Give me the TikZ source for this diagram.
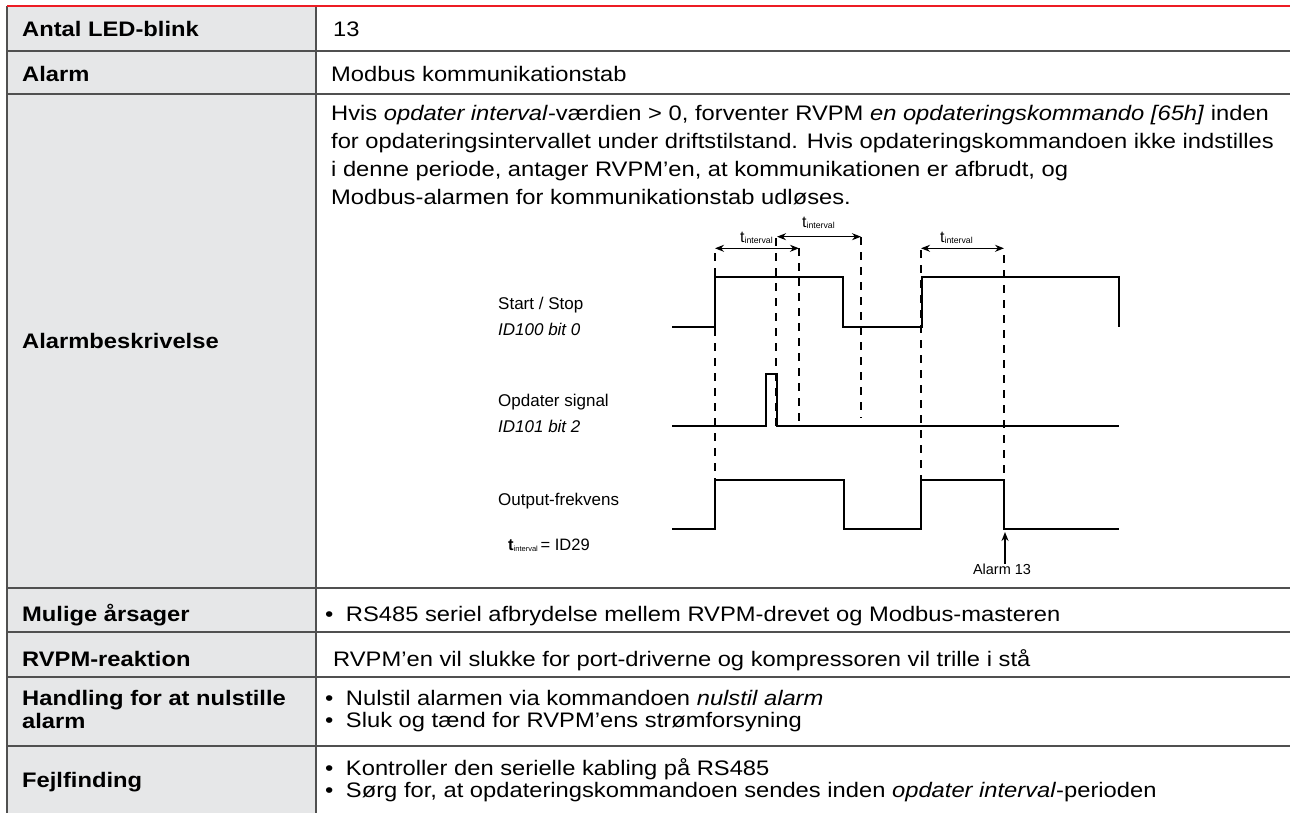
\documentclass[tikz,border=0pt]{standalone}
\usepackage{fontspec}
\setmainfont{Liberation Sans}
\newfontfamily\cellfont{Liberation Sans}[FakeStretch=1.13]
\usetikzlibrary{arrows.meta}
\definecolor{cellgray}{RGB}{230,231,232}
\definecolor{rulegray}{RGB}{80,80,80}
\definecolor{topred}{RGB}{237,28,36}
\newcommand{\tsub}[1]{t\raisebox{-1.5pt}{\fontsize{#1}{#1}\selectfont interval}}

\begin{document}
\begin{tikzpicture}[x=1pt,y=-1pt,
  txt/.style={anchor=base west,inner sep=0pt,font=\cellfont\fontsize{21}{24}\selectfont},
  hd/.style={txt,font=\cellfont\fontsize{21}{24}\selectfont\bfseries},
  lbl/.style={anchor=base west,inner sep=0pt,font=\fontsize{17}{20}\selectfont},
  wave/.style={black,line width=1.6pt},
  guide/.style={black,line width=1.4pt,dash pattern=on 8pt off 7pt},
  span/.style={black,line width=1.4pt,{Stealth[length=9pt,width=7pt]}-{Stealth[length=9pt,width=7pt]}}]
\useasboundingbox (0,0) rectangle (1290,813);

% table
\fill[cellgray] (7,6) rectangle (316,813);
\foreach \y in {51,94,588,632,677,746}
  \draw[rulegray,line width=1.5pt] (7,\y) -- (1290,\y);
\draw[rulegray,line width=1.5pt] (7,6) -- (7,813) (316,6) -- (316,813);
\draw[topred,line width=1.2pt] (7,6) -- (1290,6);

\node[hd] (blinkhd) at (22,36.7) {Antal LED-blink};
\node[txt] (blinkval) at (333,36.7) {13};
\node[hd] (alarmhd) at (22,81.7) {Alarm};
\node[txt] (alarmval) at (331,81.7) {Modbus kommunikationstab};
\node[hd] (deschd) at (22,348) {Alarmbeskrivelse};
\node[txt] (desc1) at (331,121) {Hvis \textit{opdater interval}-værdien > 0, forventer RVPM \textit{en opdateringskommando [65h]} inden};
\node[txt] (desc2) at (331,149) {for opdateringsintervallet under driftstilstand. Hvis opdateringskommandoen ikke indstilles};
\node[txt] (desc3) at (331,177) {i denne periode, antager RVPM’en, at kommunikationen er afbrudt, og};
\node[txt] (desc4) at (331,205) {Modbus-alarmen for kommunikationstab udløses.};

\node[hd] (causehd) at (22,621) {Mulige årsager};
\node[txt] (cause1) at (325,621) {•\hspace{12.5pt}RS485 seriel afbrydelse mellem RVPM-drevet og Modbus-masteren};
\node[hd] (reacthd) at (22,666) {RVPM-reaktion};
\node[txt] (react1) at (333,666) {RVPM’en vil slukke for port-driverne og kompressoren vil trille i stå};
\node[hd] (resethd) at (22,705) {Handling for at nulstille};
\node[hd] (resethd2) at (22,728) {alarm};
\node[txt] (reset1) at (325,705) {•\hspace{12.5pt}Nulstil alarmen via kommandoen \textit{nulstil alarm}};
\node[txt] (reset2) at (325,727.5) {•\hspace{12.5pt}Sluk og tænd for RVPM’ens strømforsyning};
\node[hd] (findhd) at (22,787) {Fejlfinding};
\node[txt] (find1) at (325,775) {•\hspace{12.5pt}Kontroller den serielle kabling på RS485};
\node[txt] (find2) at (325,797.5) {•\hspace{12.5pt}Sørg for, at opdateringskommandoen sendes inden \textit{opdater interval}-perioden};

% timing diagram
\node[lbl] (runlbl) at (498,309) {Start / Stop};
\node[lbl] (runid) at (498,335) {\textit{ID100 bit 0}};
\node[lbl] (updlbl) at (498,406) {Opdater signal};
\node[lbl] (updid) at (498,432) {\textit{ID101 bit 2}};
\node[lbl] (outlbl) at (498,505) {Output-frekvens};
\node[lbl,font=\fontsize{16.5}{20}\selectfont] (tnote) at (508,550) {\textbf{t}\raisebox{-1.5pt}{\fontsize{7.5}{8}\selectfont interval}\,= ID29};

\draw[wave] (672,327) -- (715,327) -- (715,277) -- (843,277) -- (843,327) -- (922,327) -- (922,277) -- (1119,277) -- (1119,327);
\draw[wave] (672,426) -- (766,426) -- (766,374) -- (777,374) -- (777,426) -- (1119,426);
\draw[wave] (672,529) -- (715,529) -- (715,480) -- (844,480) -- (844,529) -- (921,529) -- (921,480) -- (1004,480) -- (1004,529) -- (1119,529);

\draw[guide] (715,253) -- (715,480);
\draw[guide] (776,238) -- (776,426);
\draw[guide] (799,248) -- (799,426);
\draw[guide] (861,237) -- (861,418);
\draw[guide] (921,250) -- (921,480);
\draw[guide] (1004,255) -- (1004,480);

\draw[span] (715,248.3) -- (799,248.3);
\draw[span] (777,236.7) -- (861,236.7);
\draw[span] (921,248.3) -- (1004,248.3);
\node[lbl,font=\fontsize{16}{18}\selectfont] (span1) at (740,242) {\tsub{8.7}};
\node[lbl,font=\fontsize{16}{18}\selectfont] (span2) at (802,227) {\tsub{8.7}};
\node[lbl,font=\fontsize{16}{18}\selectfont] (span3) at (940,242) {\tsub{8.7}};

\node[anchor=north,inner sep=0pt,font=\fontsize{14.5}{16}\selectfont] (alarm) at (1002,564) {Alarm 13};
\coordinate (trip) at (1005,532);
\draw[black,line width=1.4pt,-{Stealth[length=9pt,width=7pt]}] (alarm.north -| trip) -- (trip);

\end{tikzpicture}
\end{document}
